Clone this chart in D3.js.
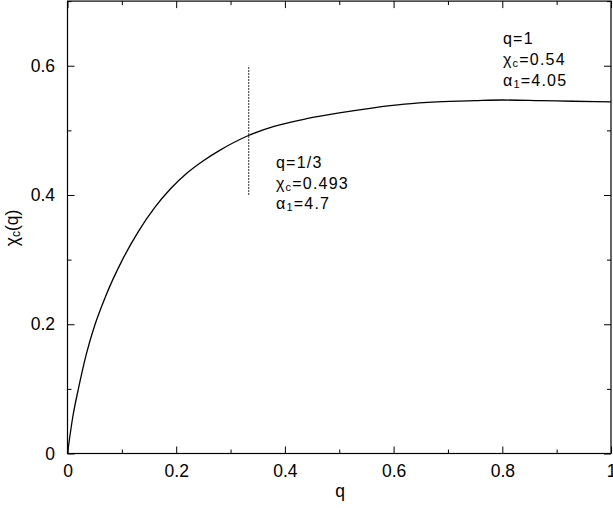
<!DOCTYPE html>
<html>
<head>
<meta charset="utf-8">
<script src="https://cdn.jsdelivr.net/npm/d3@7"></script>
<style>
  body { margin: 0; background: #fff; }
  text { font-family: "Liberation Sans", Arial, sans-serif; fill: #000; }
</style>
</head>
<body>
<div id="chart"></div>
<script>
var width = 613,
    height = 508;

// curve chi_c(q)
var qVals   = [0, 0.01, 0.02, 0.035, 0.05, 0.07, 0.1, 0.13, 0.16, 0.19, 0.22, 0.25, 0.28, 0.333, 0.38, 0.44, 0.5, 0.56, 0.62, 0.68, 0.75, 0.8, 0.87, 0.93, 1.0];
var chiVals = [0, 0.058, 0.1, 0.155, 0.198, 0.243, 0.298, 0.343, 0.38, 0.41, 0.434, 0.453, 0.469, 0.492, 0.506, 0.518, 0.527, 0.5345, 0.5405, 0.544, 0.546, 0.547, 0.546, 0.545, 0.544];

// vertical marker at q=1/3
var markQ = 1 / 3;
var markRange = [0.4, 0.6];

var xTicks = [0, 0.1, 0.2, 0.3, 0.4, 0.5, 0.6, 0.7, 0.8, 0.9, 1.0];
var xLabeled = [0, 0.2, 0.4, 0.6, 0.8, 1.0];
var yTicks = [0, 0.1, 0.2, 0.3, 0.4, 0.5, 0.6, 0.7];
var yLabeled = [0, 0.2, 0.4, 0.6];

// annotations: q text, chi_c value, alpha_1 value
var noteThird = ["q=1/3", "0.493", "4.7"];
var noteOne = ["q=1", "0.54", "4.05"];

var mLeft = 67.5, mRight = 611, mTop = 1.1, mBottom = 453.5;

var svg = d3.select("#chart").append("svg")
    .attr("width", width)
    .attr("height", height);

var x = d3.scaleLinear().domain([0, 1]).range([mLeft, mRight]);
var y = d3.scaleLinear().domain([0, 0.7]).range([mBottom, mTop]);

function fmt(d) { return String(+d.toFixed(1)); }
function isLab(list, d) { return list.some(function(v) { return Math.abs(v - d) < 1e-9; }); }

// axes (ticks point inward, longer on labelled values)
function styleTicks(g, list, horiz) {
  g.select(".domain").remove();
  g.selectAll(".tick line")
    .attr("stroke", "#000")
    .each(function(d) {
      var len = isLab(list, d) ? 7 : 4;
      var l = d3.select(this);
      if (horiz) l.attr("y2", +l.attr("y2") < 0 ? -len : len);
      else l.attr("x2", +l.attr("x2") < 0 ? -len : len);
    });
}

var gx = svg.append("g")
    .attr("transform", "translate(0," + mBottom + ")")
    .call(d3.axisBottom(x).tickValues(xTicks).tickSize(-7).tickPadding(11.5)
      .tickFormat(function(d) { return isLab(xLabeled, d) ? fmt(d) : ""; }));
styleTicks(gx, xLabeled, true);

var gxt = svg.append("g")
    .attr("transform", "translate(0," + mTop + ")")
    .call(d3.axisTop(x).tickValues(xTicks).tickSize(-7).tickFormat(""));
styleTicks(gxt, xLabeled, true);

var gy = svg.append("g")
    .attr("transform", "translate(" + mLeft + ",0)")
    .call(d3.axisLeft(y).tickValues(yTicks).tickSize(-7).tickPadding(12.5)
      .tickFormat(function(d) { return isLab(yLabeled, d) ? fmt(d) : ""; }));
styleTicks(gy, yLabeled, false);

var gyr = svg.append("g")
    .attr("transform", "translate(" + mRight + ",0)")
    .call(d3.axisRight(y).tickValues(yTicks).tickSize(-7).tickFormat(""));
styleTicks(gyr, yLabeled, false);

svg.selectAll(".tick text")
  .style("font-family", "'Liberation Sans', Arial, sans-serif")
  .style("font-size", "17.5px")
  .attr("fill", "#000");

// frame
svg.append("rect")
  .attr("x", mLeft).attr("y", mTop)
  .attr("width", mRight - mLeft).attr("height", mBottom - mTop)
  .attr("fill", "none").attr("stroke", "#000").attr("stroke-width", 1.2);

// curve
var pts = qVals.map(function(q, i) { return [q, chiVals[i]]; });
var line = d3.line()
  .x(function(d) { return x(d[0]); })
  .y(function(d) { return y(d[1]); })
  .curve(d3.curveMonotoneX);

svg.append("path")
  .datum(pts)
  .attr("d", line)
  .attr("fill", "none")
  .attr("stroke", "#000")
  .attr("stroke-width", 1.3);

// marker
svg.append("line")
  .attr("x1", x(markQ)).attr("x2", x(markQ))
  .attr("y1", y(markRange[0])).attr("y2", y(markRange[1]))
  .attr("stroke", "#555").attr("stroke-width", 1.2)
  .attr("stroke-dasharray", "2,1");

// annotation block
function note(x0, y0, vals) {
  var g = svg.append("g").style("font-size", "16px").style("letter-spacing", "1.2px");
  g.append("text").attr("x", x0).attr("y", y0).text(vals[0]);
  var t2 = g.append("text").attr("x", x0).attr("y", y0 + 21);
  t2.append("tspan").text("\u03c7");
  t2.append("tspan").attr("dy", 2).style("font-size", "11px").text("c");
  t2.append("tspan").attr("dy", -2).text("=" + vals[1]);
  var t3 = g.append("text").attr("x", x0).attr("y", y0 + 41.5);
  t3.append("tspan").text("\u03b1");
  t3.append("tspan").attr("dy", 2).style("font-size", "11px").text("1");
  t3.append("tspan").attr("dy", -2).text("=" + vals[2]);
}
note(276, 167.5, noteThird);
note(503, 44, noteOne);

// axis titles
svg.append("text")
  .attr("x", 340).attr("y", 497)
  .attr("text-anchor", "middle")
  .style("font-size", "17.5px")
  .text("q");

var yl = svg.append("text")
  .attr("transform", "translate(18,228) rotate(-90)")
  .attr("text-anchor", "middle")
  .style("font-size", "17.5px");
yl.append("tspan").text("\u03c7");
yl.append("tspan").attr("dy", 2).style("font-size", "12px").text("c");
yl.append("tspan").attr("dy", -2).text("(q)");
</script>
</body>
</html>
